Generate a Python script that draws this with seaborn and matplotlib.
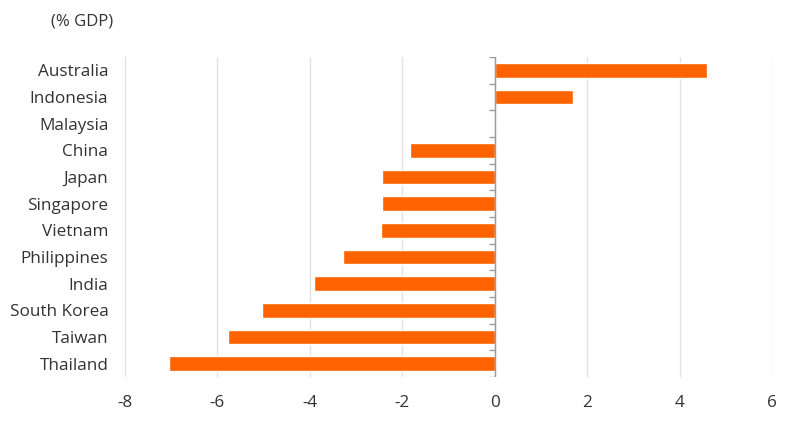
import matplotlib
matplotlib.use("Agg")
import matplotlib.pyplot as plt
import seaborn as sns
import numpy as np
import pandas as pd

countries = ["Australia", "Indonesia", "Malaysia", "China", "Japan", "Singapore",
             "Vietnam", "Philippines", "India", "South Korea", "Taiwan", "Thailand"]
values = [4.6, 1.7, 0.0, -1.84, -2.43, -2.44, -2.47, -3.28, -3.9, -5.03, -5.77, -7.05]
xticks = [-8, -6, -4, -2, 0, 2, 4, 6]
unit_label = "(% GDP)"

sns.set_theme(style="white")
plt.rcParams['font.family'] = ['Open Sans', 'DejaVu Sans']

df = pd.DataFrame({"country": countries, "value": values})

fig = plt.figure(figsize=(8, 4.23), dpi=100)
ax = fig.add_axes([125/800, 1-377/423, (772-125)/800, (377-57)/423])

sns.barplot(data=df, y="country", x="value", orient="h", color="#FF6200",
            width=0.56, saturation=1, ax=ax, zorder=3)

ax.set_xlim(-8, 6)
ax.set_ylim(len(countries)-0.5, -0.5)
ax.set_xticks(xticks)
ax.set_xticklabels([str(t) for t in xticks])
ax.grid(axis="x", color="#e3e3e3", lw=1, zorder=0)
ax.grid(axis="y", visible=False)
for s in ax.spines.values():
    s.set_visible(False)

ax.axvline(0, color="#9a9a9a", lw=1, zorder=4)
ax.hlines(np.arange(-0.5, len(countries)), -0.12, 0, color="#9a9a9a", lw=1, zorder=4)

ax.tick_params(axis="y", length=0, pad=12, labelsize=12.3, labelcolor="#333333")
ax.tick_params(axis="x", length=0, pad=13, labelsize=12.3, labelcolor="#333333")
ax.set_xlabel("")
ax.set_ylabel("")

fig.text(113/800, 1-21/423, unit_label, ha="right", va="center", fontsize=12, color="#333333")

fig.savefig("out.png", dpi=100)
